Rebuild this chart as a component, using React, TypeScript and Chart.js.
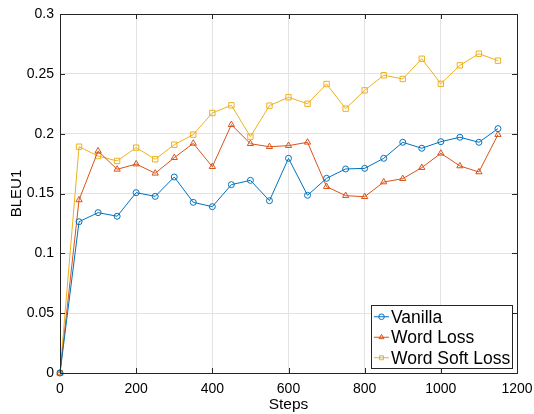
import { useEffect, useRef } from "react";
import { Chart, registerables } from "chart.js";

Chart.register(...registerables);

const steps = [0, 50, 100, 150, 200, 250, 300, 350, 400, 450, 500, 550, 600, 650, 700, 750, 800, 850, 900, 950, 1000, 1050, 1100, 1150];
const vanilla = [0, 0.1264, 0.134, 0.131, 0.1507, 0.1476, 0.1638, 0.1426, 0.139, 0.1574, 0.161, 0.144, 0.1794, 0.1485, 0.1627, 0.1705, 0.171, 0.1794, 0.1928, 0.1878, 0.1933, 0.197, 0.1928, 0.2042];
const wordLoss = [0, 0.1446, 0.1855, 0.1702, 0.1746, 0.1669, 0.1799, 0.1919, 0.1724, 0.2075, 0.1916, 0.1891, 0.19, 0.1928, 0.1557, 0.1482, 0.1473, 0.1596, 0.1624, 0.1716, 0.1836, 0.173, 0.168, 0.1992];
const wordSoftLoss = [0, 0.1891, 0.1813, 0.1772, 0.1883, 0.1786, 0.1908, 0.1992, 0.2173, 0.2237, 0.1975, 0.2234, 0.2304, 0.225, 0.2415, 0.2209, 0.2362, 0.2488, 0.2457, 0.2626, 0.2417, 0.2571, 0.2668, 0.261];
const seriesNames = ["Vanilla", "Word Loss", "Word Soft Loss"];
const seriesColors = ["#0072BD", "#D95319", "#EDB120"];
const seriesMarkers = ["circle", "triangle", "rect"];
const markerRadius = [3, 3.6, 3.8];
const xTitle = "Steps";
const yTitle = "BLEU1";

const FONT = "'Liberation Sans', Arial, Helvetica, sans-serif";
const AXIS_COLOR = "#262626";

const boxPlugin = {
  id: "matlabBox",
  afterDatasetsDraw(chart: any) {
    const { ctx, chartArea } = chart;
    const { left, right, top, bottom } = chartArea;
    const xs = chart.scales.x;
    const ys = chart.scales.y;
    const tl = 5;
    ctx.save();
    ctx.strokeStyle = AXIS_COLOR;
    ctx.lineWidth = 1;
    ctx.beginPath();
    xs.ticks.forEach((t: any) => {
      const px = Math.round(xs.getPixelForValue(t.value)) + 0.5;
      ctx.moveTo(px, bottom);
      ctx.lineTo(px, bottom - tl);
      ctx.moveTo(px, top);
      ctx.lineTo(px, top + tl);
    });
    ys.ticks.forEach((t: any) => {
      const py = Math.round(ys.getPixelForValue(t.value)) + 0.5;
      ctx.moveTo(left, py);
      ctx.lineTo(left + tl, py);
      ctx.moveTo(right, py);
      ctx.lineTo(right - tl, py);
    });
    ctx.stroke();
    ctx.strokeRect(Math.round(left) + 0.5, Math.round(top) + 0.5, Math.round(right - left), Math.round(bottom - top));
    ctx.restore();
  },
};

function drawMarker(ctx: CanvasRenderingContext2D, style: string, x: number, y: number, r: number, color: string) {
  ctx.save();
  ctx.strokeStyle = color;
  ctx.lineWidth = 1;
  ctx.beginPath();
  if (style === "circle") {
    ctx.arc(x, y, r, 0, Math.PI * 2);
  } else if (style === "triangle") {
    ctx.moveTo(x, y - r);
    ctx.lineTo(x + r * 0.866, y + r * 0.5);
    ctx.lineTo(x - r * 0.866, y + r * 0.5);
    ctx.closePath();
  } else {
    const h = r * 0.707;
    ctx.rect(x - h, y - h, 2 * h, 2 * h);
  }
  ctx.stroke();
  ctx.restore();
}

const legendPlugin = {
  id: "matlabLegend",
  afterDraw(chart: any) {
    const { ctx, chartArea } = chart;
    const fontSize = 17.5;
    ctx.save();
    ctx.font = `${fontSize}px ${FONT}`;
    const textW = Math.max(...seriesNames.map((n) => ctx.measureText(n).width));
    const rowH = 20.5;
    const sampleW = 15;
    const padL = 2.5;
    const gap = 2;
    const padR = 2;
    const w = Math.round(padL + sampleW + gap + textW + padR);
    const h = Math.round(rowH * seriesNames.length + 1);
    const x1 = Math.round(chartArea.right - 5 - w) + 0.5;
    const y1 = Math.round(chartArea.bottom - 5 - h) + 0.5;
    ctx.fillStyle = "#ffffff";
    ctx.fillRect(x1, y1, w, h);
    ctx.strokeStyle = AXIS_COLOR;
    ctx.lineWidth = 1;
    ctx.strokeRect(x1, y1, w, h);
    seriesNames.forEach((name, i) => {
      const cy = y1 + 1 + rowH * (i + 0.5);
      const sx = x1 + padL;
      ctx.strokeStyle = seriesColors[i];
      ctx.lineWidth = 1;
      ctx.beginPath();
      ctx.moveTo(sx, cy);
      ctx.lineTo(sx + sampleW, cy);
      ctx.stroke();
      drawMarker(ctx, seriesMarkers[i], sx + sampleW / 2, cy, 2.8, seriesColors[i]);
      ctx.fillStyle = "#000000";
      ctx.textBaseline = "middle";
      ctx.textAlign = "left";
      ctx.fillText(name, sx + sampleW + gap, cy + 1);
    });
    ctx.restore();
  },
};

export default function App() {
  const ref = useRef<HTMLCanvasElement | null>(null);

  useEffect(() => {
    document.body.style.margin = "0";
    const canvas = ref.current;
    if (!canvas) return;
    const allSeries = [vanilla, wordLoss, wordSoftLoss];
    const chart = new Chart(canvas, {
      type: "line",
      data: {
        datasets: allSeries.map((vals, i) => ({
          label: seriesNames[i],
          data: steps.map((s, j) => ({ x: s, y: vals[j] })),
          borderColor: seriesColors[i],
          backgroundColor: "rgba(0,0,0,0)",
          borderWidth: 1,
          pointStyle: seriesMarkers[i] as any,
          pointRadius: markerRadius[i],
          pointBorderColor: seriesColors[i],
          pointBackgroundColor: "rgba(0,0,0,0)",
          pointBorderWidth: 1,
          tension: 0,
          clip: false as any,
        })),
      },
      options: {
        animation: false,
        responsive: false,
        maintainAspectRatio: false,
        layout: { padding: { top: 14, right: 17, left: 0, bottom: 0 } },
        plugins: {
          legend: { display: false },
          tooltip: { enabled: false },
        },
        scales: {
          x: {
            type: "linear",
            min: 0,
            max: 1200,
            ticks: {
              stepSize: 200,
              color: "#000000",
              font: { family: FONT, size: 14 },
              padding: 8,
              maxRotation: 0,
              callback: (v: any) => String(Number(v)),
            },
            grid: { color: "#e3e3e3", drawTicks: false, lineWidth: 1 },
            border: { display: false },
            title: {
              display: true,
              text: xTitle,
              color: "#000000",
              font: { family: FONT, size: 15.5 },
              padding: { top: 0, bottom: 0 },
            },
            afterFit: (s: any) => {
              s.height = 41;
              s.paddingLeft = 0;
              s.paddingRight = 0;
            },
          },
          y: {
            type: "linear",
            min: 0,
            max: 0.3,
            ticks: {
              stepSize: 0.05,
              color: "#000000",
              font: { family: FONT, size: 14 },
              padding: 6,
              callback: (v: any) => String(+Number(v).toFixed(2)),
            },
            grid: { color: "#e3e3e3", drawTicks: false, lineWidth: 1 },
            border: { display: false },
            title: {
              display: true,
              text: yTitle,
              color: "#000000",
              font: { family: FONT, size: 15 },
              padding: { top: 8, bottom: 8 },
            },
            afterFit: (s: any) => {
              s.width = 60;
              s.paddingTop = 0;
              s.paddingBottom = 0;
            },
          },
        },
      },
      plugins: [boxPlugin, legendPlugin],
    });
    return () => chart.destroy();
  }, []);

  return (
    <div style={{ width: 534, height: 414, background: "#ffffff" }}>
      <canvas ref={ref} width={534} height={414} style={{ display: "block" }} />
    </div>
  );
}
